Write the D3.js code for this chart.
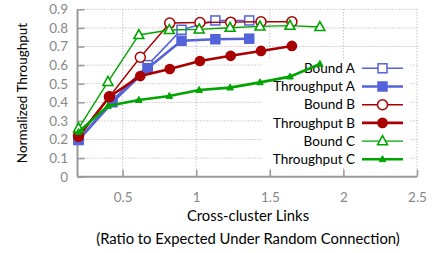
<!DOCTYPE html>
<html><head><meta charset="utf-8">
<script src="https://cdn.jsdelivr.net/npm/d3@7"></script>
<style>
body{margin:0;background:#fff;}
text{font-family:Lato,"Open Sans",sans-serif;}
</style></head>
<body>
<svg id="c" width="434" height="253"></svg>
<script>
const xA = [0.2, 0.43, 0.67, 0.9, 1.13, 1.36];
const boundA = [0.2, 0.41, 0.60, 0.79, 0.84, 0.84];
const thrA = [0.197, 0.40, 0.583, 0.731, 0.739, 0.742];
const xB = [0.2, 0.41, 0.62, 0.82, 1.025, 1.234, 1.44, 1.65];
const boundB = [0.22, 0.43, 0.642, 0.826, 0.829, 0.831, 0.833, 0.833];
const thrB = [0.215, 0.43, 0.541, 0.579, 0.622, 0.65, 0.676, 0.703];
const xC = [0.2, 0.40, 0.61, 0.817, 1.02, 1.23, 1.433, 1.637, 1.84];
const boundC = [0.26, 0.51, 0.762, 0.789, 0.792, 0.801, 0.808, 0.812, 0.805];
const thrC = [0.24, 0.38, 0.412, 0.434, 0.466, 0.479, 0.507, 0.538, 0.606];
const xTicks = [0.5, 1, 1.5, 2, 2.5];
const xTickLabels = ["0.5", "1", "1.5", "2", "2.5"];
const yTicks = [0, 0.1, 0.2, 0.3, 0.4, 0.5, 0.6, 0.7, 0.8, 0.9];
const yTickLabels = ["0", "0.1", "0.2", "0.3", "0.4", "0.5", "0.6", "0.7", "0.8", "0.9"];
const seriesNames = ["Bound A", "Throughput A", "Bound B", "Throughput B", "Bound C", "Throughput C"];

const svg = d3.select("#c");
const L = 77.5, R = 417, T = 9.3, B = 176.7;
const x = d3.scaleLinear().domain([0.2, 2.5]).range([78.5, R]);
const y = d3.scaleLinear().domain([0, 0.9]).range([B, T]);

const grid = svg.append("g");
grid.selectAll("line.h").data(yTicks.slice(1)).join("line")
  .attr("x1", L).attr("x2", R).attr("y1", d => y(d)).attr("y2", d => y(d))
  .attr("stroke", "#aaa").attr("stroke-width", 1).attr("stroke-dasharray", "1,2");
grid.selectAll("line.v").data(xTicks).join("line")
  .attr("x1", d => x(d)).attr("x2", d => x(d)).attr("y1", T).attr("y2", B)
  .attr("stroke", "#aaa").attr("stroke-width", 1).attr("stroke-dasharray", "1,2");

const xAxis = d3.axisBottom(x).tickValues(xTicks).tickFormat((d, i) => xTickLabels[i]).tickSizeInner(-7).tickSizeOuter(0).tickPadding(16);
const yAxis = d3.axisLeft(y).tickValues(yTicks).tickFormat((d, i) => yTickLabels[i]).tickSizeInner(-7).tickSizeOuter(0).tickPadding(9.5);
const gx = svg.append("g").attr("transform", `translate(0,${B})`).call(xAxis);
const gy = svg.append("g").attr("transform", `translate(${L},0)`).call(yAxis);
[gx, gy].forEach(g => {
  g.select(".domain").attr("stroke", "#999").attr("stroke-width", 2);
  g.selectAll(".tick line").attr("stroke", "#999").attr("stroke-width", 1.5);
  g.selectAll(".tick text").attr("fill", "#888").style("font-size", "13.5px").style("font-family", "Lato,'Open Sans',sans-serif");
});
gy.select(".domain").attr("d", `M0,${B}V${T}`);
gx.select(".domain").attr("d", `M${L},0H${R}`);

const blue = "#5363d9", red = "#a80000", green = "#00a500";
const styles = [
  {xs: xA, ys: boundA, c: blue, w: 1.6, m: "sq", fill: false},
  {xs: xA, ys: thrA, c: blue, w: 2.6, m: "sq", fill: true},
  {xs: xB, ys: boundB, c: red, w: 1.4, m: "ci", fill: false},
  {xs: xB, ys: thrB, c: red, w: 2.6, m: "ci", fill: true},
  {xs: xC, ys: boundC, c: green, w: 1.4, m: "tri", fill: false},
  {xs: xC, ys: thrC, c: green, w: 2.6, m: "tris", fill: true},
];

function marker(g, m, c, fill, cx, cy) {
  if (m === "sq") {
    g.append("rect").attr("x", cx - 4.5).attr("y", cy - 4.5).attr("width", 9).attr("height", 9)
      .attr("fill", fill ? c : "#fff").attr("stroke", c).attr("stroke-width", 1.5);
  } else if (m === "ci") {
    g.append("circle").attr("cx", cx).attr("cy", cy).attr("r", fill ? 4.6 : 5)
      .attr("fill", fill ? c : "#fff").attr("stroke", c).attr("stroke-width", 1.5);
  } else if (m === "tri") {
    const s = 9;
    g.append("path").attr("d", `M${cx},${cy - s * 0.6}L${cx + s * 0.55},${cy + s * 0.4}L${cx - s * 0.55},${cy + s * 0.4}Z`)
      .attr("fill", "#fff").attr("stroke", c).attr("stroke-width", 1.6);
  } else {
    const s = 6;
    g.append("path").attr("d", `M${cx},${cy - s * 0.6}L${cx + s * 0.55},${cy + s * 0.4}L${cx - s * 0.55},${cy + s * 0.4}Z`)
      .attr("fill", c).attr("stroke", c).attr("stroke-width", 1);
  }
}

// legend (under data)
const lg = svg.append("g");
lg.append("rect").attr("x", 262).attr("y", 59).attr("width", 147).attr("height", 109).attr("fill", "#fff");
styles.forEach((s, i) => {
  const ly = 68.3 + i * 18.2;
  lg.append("text").attr("x", 355).attr("y", ly).attr("dy", "0.35em").attr("text-anchor", "end")
    .style("font-size", "13.5px").attr("fill", "#000").text(seriesNames[i]);
  lg.append("line").attr("x1", 362).attr("x2", 403).attr("y1", ly).attr("y2", ly).attr("stroke", s.c).attr("stroke-width", s.w);
  marker(lg, s.m, s.c, s.fill, 382.5, ly);
});

const plot = svg.append("g");
const line = d3.line();
styles.forEach(s => {
  const pts = s.xs.map((v, i) => [x(v), y(s.ys[i])]);
  plot.append("path").attr("d", line(pts)).attr("fill", "none").attr("stroke", s.c).attr("stroke-width", s.w);
  pts.forEach(p => marker(plot, s.m, s.c, s.fill, p[0], p[1]));
});

svg.append("text").attr("x", 248).attr("y", 221).attr("text-anchor", "middle").style("font-size", "14.8px").text("Cross-cluster Links");
svg.append("text").attr("x", 248).attr("y", 244).attr("text-anchor", "middle").style("font-size", "14.8px").text("(Ratio to Expected Under Random Connection)");
svg.append("text").attr("transform", "translate(27,93) rotate(-90)").attr("text-anchor", "middle").style("font-size", "13.5px").text("Normalized Throughput");
</script>
</body></html>
